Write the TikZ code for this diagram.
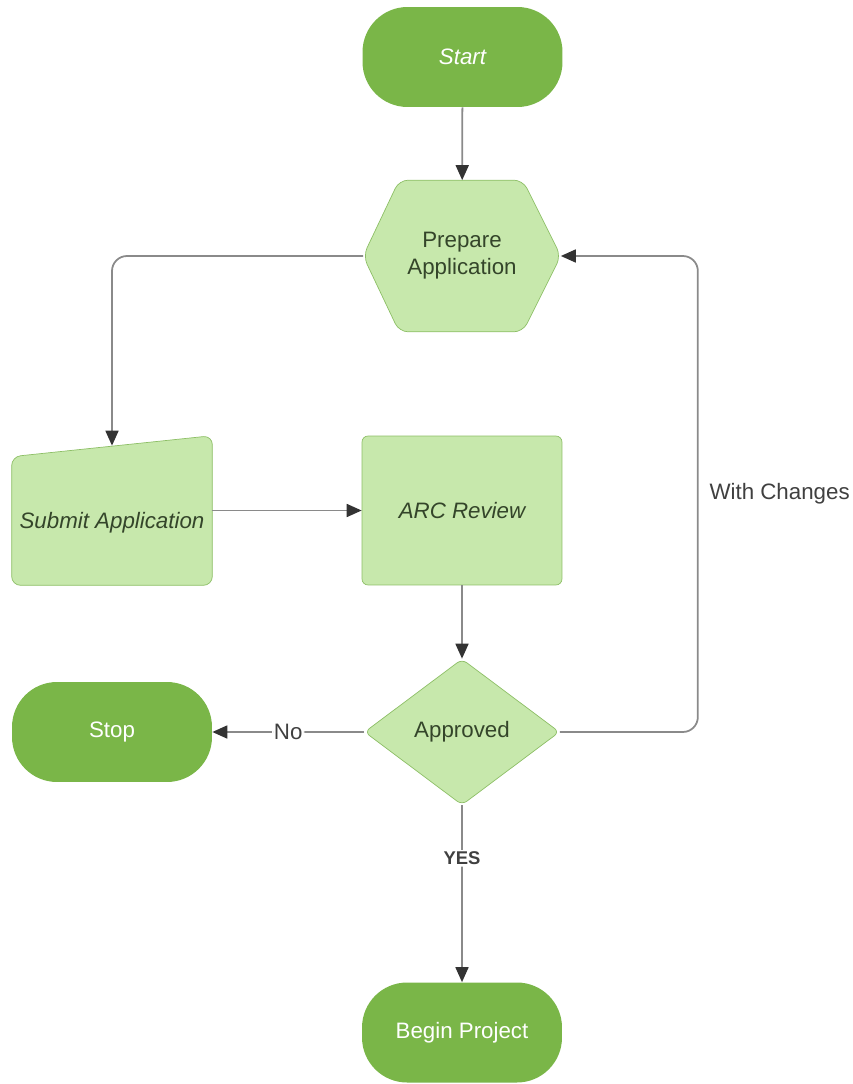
\documentclass[tikz,border=0pt]{standalone}
\usepackage{fontspec}
\setmainfont{Liberation Sans}
\usetikzlibrary{shapes.geometric,arrows.meta,backgrounds}
\definecolor{darkleaf}{HTML}{7AB648}
\definecolor{paleleaf}{HTML}{C7E8AC}
\definecolor{leafline}{HTML}{8DBF66}
\definecolor{leaftext}{HTML}{34452A}
\definecolor{wiregrey}{HTML}{8A8A8A}
\tikzset{
    terminal/.style={shape=rectangle,rounded corners=0.9cm,fill=darkleaf,text=white,minimum width=4cm,minimum height=2cm},
    process/.style={shape=rectangle,rounded corners=0.12cm,fill=paleleaf,draw=leafline,text=leaftext,minimum width=4cm,minimum height=2.98cm},
    decision/.style={shape=diamond,rounded corners=0.12cm,fill=paleleaf,draw=leafline,text=leaftext,aspect=1.33,inner sep=0pt,minimum width=3.9cm,minimum height=2.92cm},
    frame/.style={shape=rectangle,text=leaftext,minimum width=3.94cm,minimum height=3.02cm},
    outline/.style={fill=paleleaf,draw=leafline,rounded corners=0.18cm},
    wire/.style={draw=wiregrey,line width=1pt,rounded corners=0.3cm,-{Triangle[length=0.3cm,width=0.26cm,color=black!80]}},
    tag/.style={fill=white,inner sep=1pt,text=black!75}
}

\begin{document}
\begin{tikzpicture}[x=0.02cm,y=-0.02cm,every node/.style={font=\fontsize{12.7pt}{15.4pt}\selectfont}]
    \useasboundingbox (0,0) rectangle (852,1084);
    \node[terminal] (S) at (462.5,57) {\itshape Start};
    \node[frame,align=center] (P) at (462,256) {Prepare\\Application};
    \node[frame,minimum width=4cm,minimum height=2.98cm,text height=20pt,text depth=0pt] (U) at (112,510.5) {\itshape Submit Application};
    \node[process] (R) at (462,510.5) {\itshape ARC Review};
    \node[decision] (A) at (462,732) {Approved};
    \node[terminal] (T) at (112,732) {Stop};
    \node[terminal] (B) at (462,1032.5) {Begin Project};

    \begin{scope}[on background layer]
        \draw[outline] (P.west) -- ([xshift=0.72cm]P.north west) -- ([xshift=-0.76cm]P.north east) -- (P.east) -- ([xshift=-0.76cm]P.south east) -- ([xshift=0.72cm]P.south west) -- cycle;
        \draw[outline] (U.south west) -- ([yshift=-0.42cm]U.north west) -- (U.north east) -- (U.south east) -- cycle;
    \end{scope}

    \draw[wire] (S) -- (P);
    \draw[wire] (P.west) -| ([yshift=-0.2cm]U.north);
    \draw[wire] (U) -- (R);
    \draw[wire] (R) -- (A);
    \draw[wire] (A) -- node[tag] {No} (T);
    \draw[wire] (A) -- node[tag,pos=0.3,font=\fontsize{10.5pt}{12pt}\selectfont\bfseries] {YES} (B);
    \draw[wire] (A.east) -- ++(138,0) |- node[pos=0.25,right,xshift=0.1cm,text=black!75] {With Changes} (P.east);
\end{tikzpicture}
\end{document}
